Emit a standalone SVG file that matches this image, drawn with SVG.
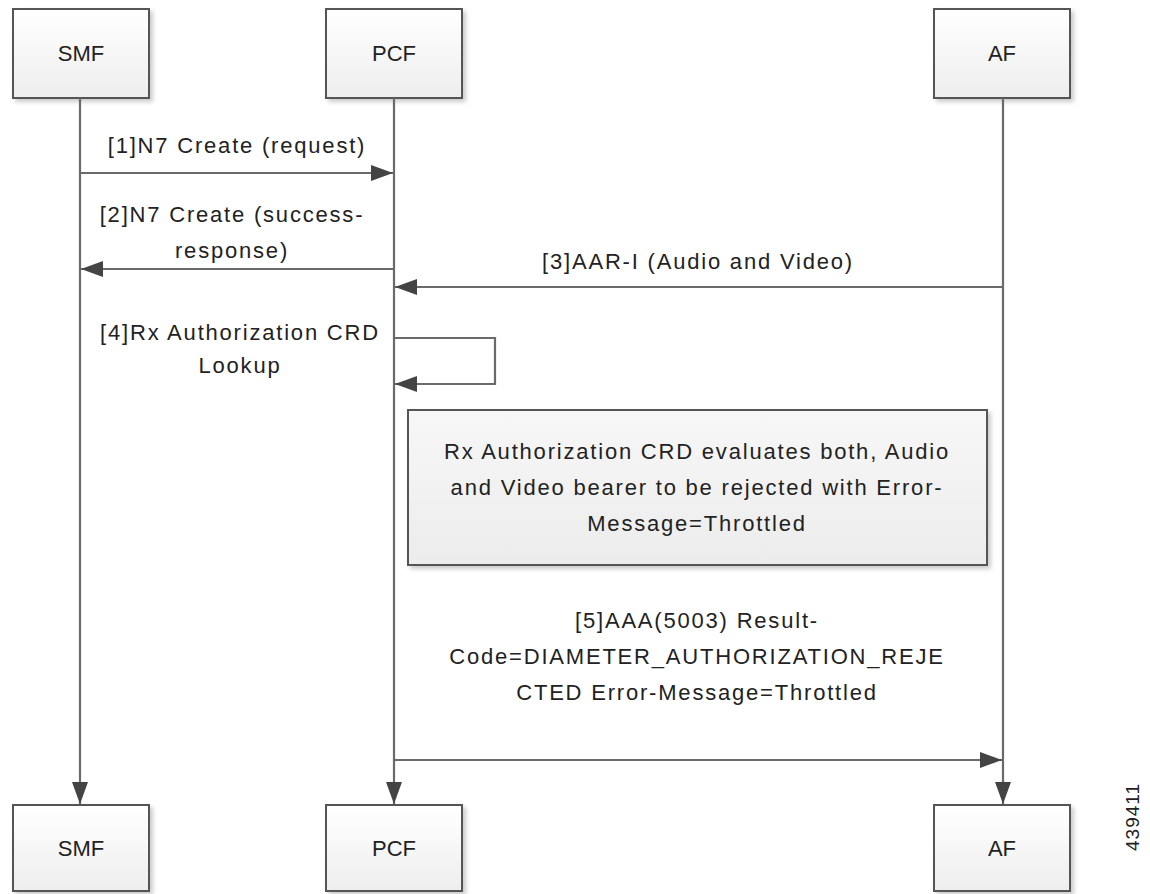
<svg xmlns="http://www.w3.org/2000/svg" width="1150" height="894" viewBox="0 0 1150 894">
<style>
.box{fill:url(#g);stroke:#555;stroke-width:2;filter:url(#sh)}
.lbl{font-family:"Liberation Sans",Arial,sans-serif;font-size:22px;fill:#222;text-anchor:middle}
.msg{font-family:"Liberation Sans",Arial,sans-serif;font-size:22px;letter-spacing:1.8px;fill:#222;text-anchor:middle}
.ln{stroke:#6a6a6a;stroke-width:2.2;fill:none}
.note{fill:url(#g2);stroke:#555;stroke-width:2;filter:url(#sh)}
</style>
<defs>
<linearGradient id="g" x1="0" y1="0" x2="0" y2="1"><stop offset="0" stop-color="#ffffff"/><stop offset="1" stop-color="#eeeeee"/></linearGradient>
<linearGradient id="g2" x1="0" y1="0" x2="0" y2="1"><stop offset="0" stop-color="#f7f7f7"/><stop offset="1" stop-color="#ececec"/></linearGradient>
<filter id="sh" x="-10%" y="-10%" width="130%" height="130%"><feDropShadow dx="3" dy="3" stdDeviation="2" flood-color="#000" flood-opacity="0.2"/></filter>
<marker id="ah" markerUnits="userSpaceOnUse" markerWidth="24" markerHeight="18" viewBox="0 0 24 18" refX="22" refY="9" orient="auto"><path d="M0,1 L22,9 L0,17 Z" fill="#444"/></marker>
</defs>
<g id="smf-top"><rect class="box" x="13" y="9" width="136" height="89"/><text class="lbl" x="81" y="61">SMF</text></g>
<g id="pcf-top"><rect class="box" x="326" y="9" width="136" height="89"/><text class="lbl" x="394" y="61">PCF</text></g>
<g id="af-top"><rect class="box" x="934" y="9" width="136" height="89"/><text class="lbl" x="1002" y="61">AF</text></g>
<g id="smf-bottom"><rect class="box" x="13" y="805" width="136" height="86"/><text class="lbl" x="81" y="856">SMF</text></g>
<g id="pcf-bottom"><rect class="box" x="326" y="805" width="136" height="86"/><text class="lbl" x="394" y="856">PCF</text></g>
<g id="af-bottom"><rect class="box" x="934" y="805" width="136" height="86"/><text class="lbl" x="1002" y="856">AF</text></g>
<g id="note"><rect class="note" x="408" y="410" width="579" height="155"/>
<text class="msg" x="697" y="459">Rx Authorization CRD evaluates both, Audio</text>
<text class="msg" x="697" y="495">and Video bearer to be rejected with Error-</text>
<text class="msg" x="697" y="531">Message=Throttled</text></g>
<g id="connectors">
<line class="ln" x1="80" y1="98" x2="80" y2="804" marker-end="url(#ah)"/>
<line class="ln" x1="394" y1="98" x2="394" y2="804" marker-end="url(#ah)"/>
<line class="ln" x1="1003" y1="98" x2="1003" y2="804" marker-end="url(#ah)"/>
<line class="ln" x1="80" y1="173" x2="393" y2="173" marker-end="url(#ah)"/>
<line class="ln" x1="394" y1="269" x2="81" y2="269" marker-end="url(#ah)"/>
<line class="ln" x1="1003" y1="287" x2="395" y2="287" marker-end="url(#ah)"/>
<polyline class="ln" points="394,338 495,338 495,384 395,384" marker-end="url(#ah)"/>
<line class="ln" x1="394" y1="760" x2="1002" y2="760" marker-end="url(#ah)"/>
</g>
<g id="labels">
<text class="msg" x="237" y="153">[1]N7 Create (request)</text>
<text class="msg" x="232" y="222">[2]N7 Create (success-</text>
<text class="msg" x="232" y="258">response)</text>
<text class="msg" x="698" y="269">[3]AAR-I (Audio and Video)</text>
<text class="msg" x="240" y="340">[4]Rx Authorization CRD</text>
<text class="msg" x="240" y="373">Lookup</text>
<text class="msg" x="697" y="628">[5]AAA(5003) Result-</text>
<text class="msg" x="697" y="664">Code=DIAMETER_AUTHORIZATION_REJE</text>
<text class="msg" x="697" y="700">CTED Error-Message=Throttled</text>
<text font-family="Liberation Sans,Arial,sans-serif" font-size="19" fill="#222" letter-spacing="1" transform="translate(1139,851) rotate(-90)">439411</text>
</g>
</svg>
